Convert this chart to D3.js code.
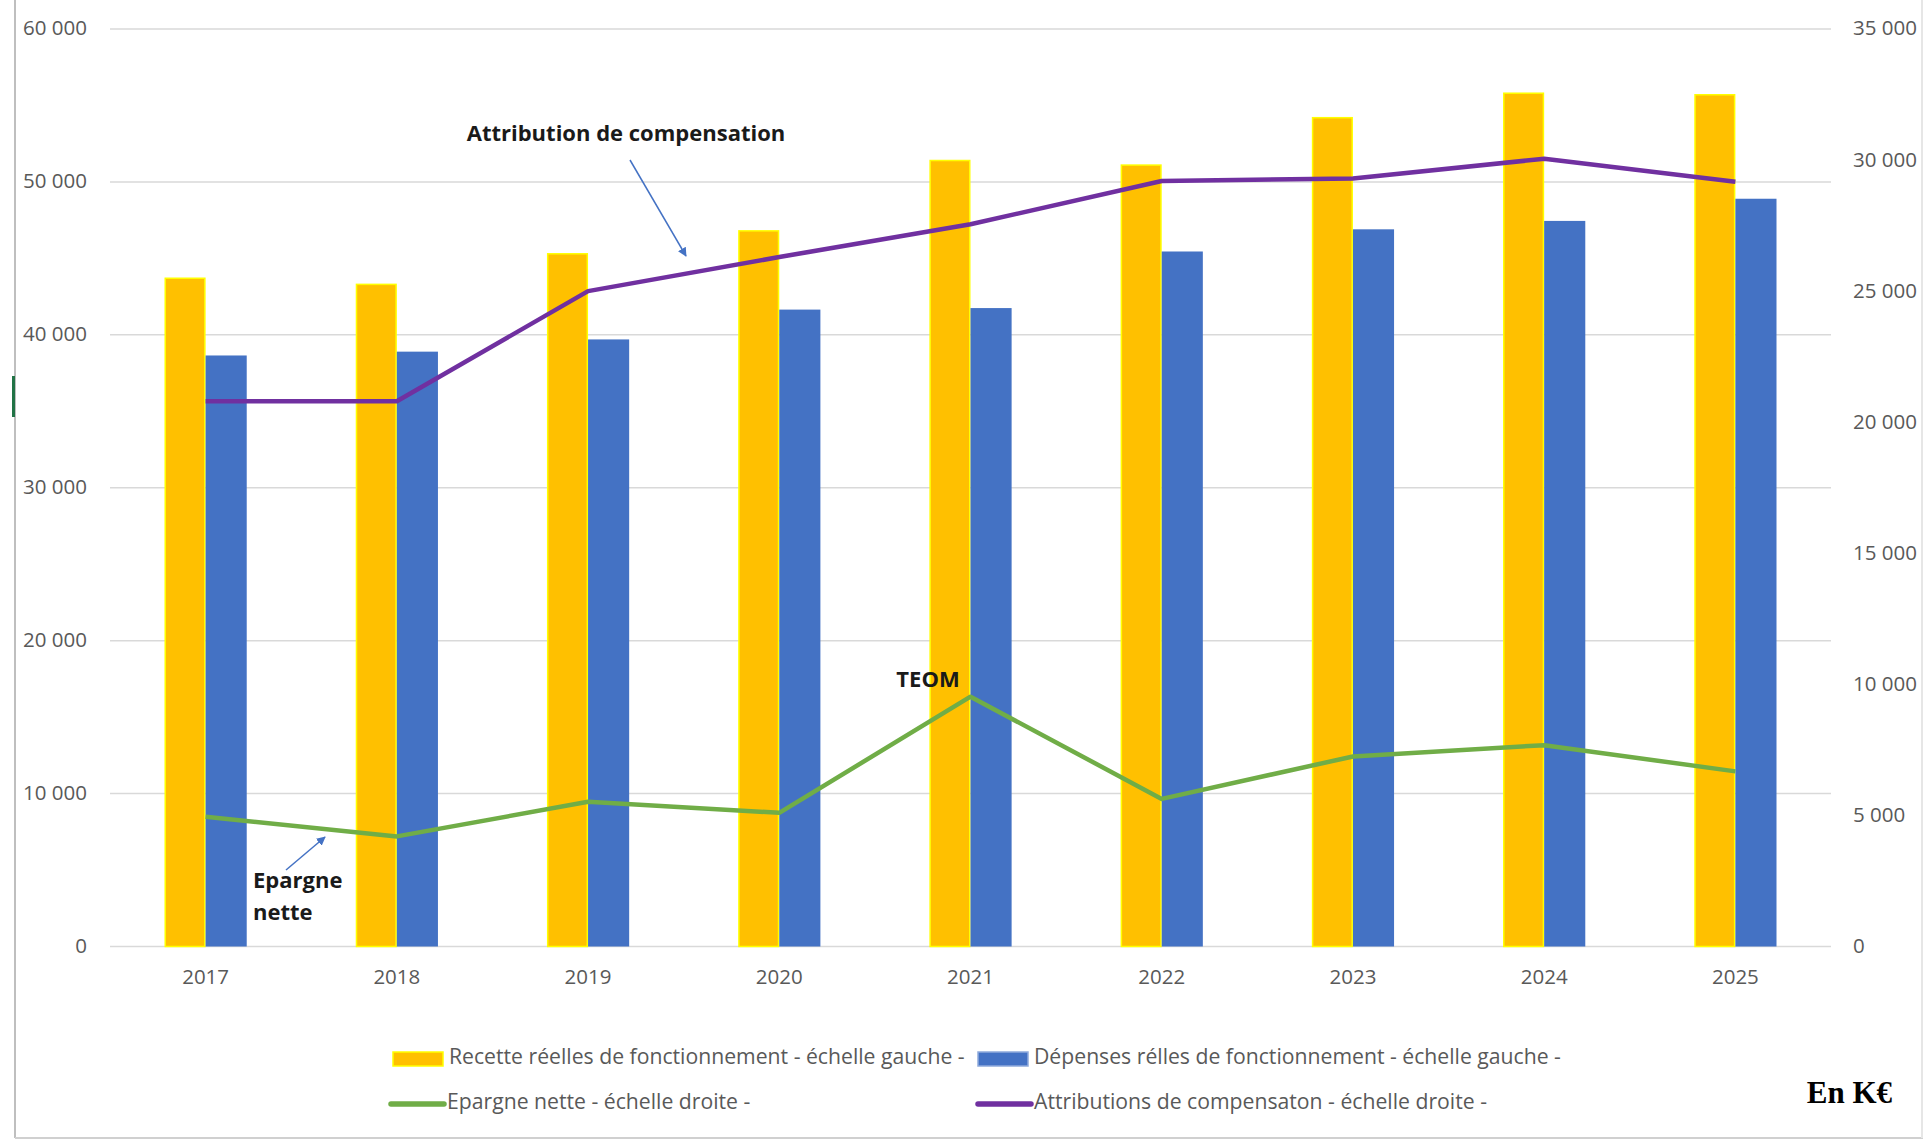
<!DOCTYPE html>
<html><head><meta charset="utf-8">
<script src="https://cdn.jsdelivr.net/npm/d3@7/dist/d3.min.js"></script>
<style>
html,body{margin:0;padding:0;background:#fff;}
svg{display:block;}
</style></head>
<body>
<svg id="chart" width="1924" height="1140"></svg>
<script>
const years = ["2017","2018","2019","2020","2021","2022","2023","2024","2025"];
const recettes = [43700, 43300, 45300, 46800, 51400, 51100, 54200, 55800, 55700];
const depenses = [38650, 38900, 39700, 41650, 41750, 45450, 46900, 47450, 48900];
const epargne = [4950, 4200, 5520, 5100, 9530, 5630, 7250, 7680, 6680];
const attributions = [20800, 20800, 25000, 26300, 27550, 29200, 29300, 30050, 29170];
const leftTicks = [0, 10000, 20000, 30000, 40000, 50000, 60000];
const rightTicks = [0, 5000, 10000, 15000, 20000, 25000, 30000, 35000];
const legendLabels = [
  "Recette réelles de fonctionnement - échelle gauche -",
  "Dépenses rélles de fonctionnement - échelle gauche -",
  "Epargne nette - échelle droite -",
  "Attributions de compensaton - échelle droite -"
];

const svg = d3.select("#chart");
const FONT = "'Open Sans', sans-serif";
const GRAY = "#595959";
const YEL = "#FFC000", BLUE = "#4472C4", GREEN = "#70AD47", PURPLE = "#7030A0";
const FS = 20.5;
const LFS = 21.2;

const pL = 110, pR = 1831, pT = 29, pB = 946.5;
const x0 = d3.scaleBand().domain(years).range([pL, pR]).padding(0);
const bw = x0.bandwidth();
const x1 = d3.scaleBand().domain(["r","d"]).range([bw*0.285, bw*0.715]).padding(0);
const yL = d3.scaleLinear().domain([0, 60000]).range([pB, pT]);
const yR = d3.scaleLinear().domain([0, 35000]).range([pB, pT]);
const fmt = v => d3.format(",")(v).replace(/,/g, " ");

// frame
svg.append("line").attr("x1",15).attr("x2",15).attr("y1",0).attr("y2",1138).attr("stroke","#bfbfbf").attr("stroke-width",2);
svg.append("line").attr("x1",15).attr("x2",1923).attr("y1",1138).attr("y2",1138).attr("stroke","#d0d0d0").attr("stroke-width",2);
svg.append("line").attr("x1",1922).attr("x2",1922).attr("y1",0).attr("y2",1138).attr("stroke","#e6e6e6").attr("stroke-width",2);
svg.append("rect").attr("x",12).attr("y",376).attr("width",3).attr("height",41).attr("fill","#217346");

// gridlines
svg.append("g").selectAll("line").data(leftTicks).join("line")
  .attr("x1", pL).attr("x2", pR)
  .attr("y1", d => yL(d)).attr("y2", d => yL(d))
  .attr("stroke", "#d9d9d9").attr("stroke-width", 1.5);

// left axis labels
svg.append("g").selectAll("text").data(leftTicks).join("text")
  .attr("x", 87).attr("y", d => yL(d) + 1)
  .attr("text-anchor", "end").attr("dominant-baseline", "middle")
  .attr("font-family", FONT).attr("font-size", FS).attr("fill", GRAY)
  .text(fmt);

// right axis labels
svg.append("g").selectAll("text").data(rightTicks).join("text")
  .attr("x", 1853).attr("y", d => yR(d) + 1)
  .attr("text-anchor", "start").attr("dominant-baseline", "middle")
  .attr("font-family", FONT).attr("font-size", FS).attr("fill", GRAY)
  .text(fmt);

// x labels
svg.append("g").selectAll("text").data(years).join("text")
  .attr("x", d => x0(d) + bw/2).attr("y", 979)
  .attr("text-anchor", "middle").attr("dominant-baseline", "middle")
  .attr("font-family", FONT).attr("font-size", FS).attr("fill", GRAY)
  .text(d => d);

// bars
const g = svg.append("g");
g.selectAll("rect.r").data(years).join("rect").attr("class","r")
  .attr("x", (d) => x0(d) + x1("r") + 0.75)
  .attr("width", x1.bandwidth() - 1.5)
  .attr("y", (d,i) => yL(recettes[i]))
  .attr("height", (d,i) => yL(0) - yL(recettes[i]))
  .attr("fill", YEL).attr("stroke", "#FFFF00").attr("stroke-width", 1.5);
g.selectAll("rect.d").data(years).join("rect").attr("class","d")
  .attr("x", (d) => x0(d) + x1("d"))
  .attr("width", x1.bandwidth())
  .attr("y", (d,i) => yL(depenses[i]))
  .attr("height", (d,i) => yL(0) - yL(depenses[i]))
  .attr("fill", BLUE);

// lines
const cx = d => x0(d) + bw/2;
const lineE = d3.line().x((d,i) => cx(years[i])).y(d => yR(d));
svg.append("path").attr("d", lineE(epargne)).attr("fill","none")
  .attr("stroke", GREEN).attr("stroke-width", 4.5).attr("stroke-linejoin","round");
svg.append("path").attr("d", lineE(attributions)).attr("fill","none")
  .attr("stroke", PURPLE).attr("stroke-width", 4.5).attr("stroke-linejoin","round");

// arrow marker
const defs = svg.append("defs");
defs.append("marker").attr("id","arr").attr("viewBox","0 0 10 10")
  .attr("refX", 9).attr("refY", 5).attr("markerWidth", 6).attr("markerHeight", 6)
  .attr("markerUnits","strokeWidth").attr("orient","auto")
  .append("path").attr("d","M0,0 L10,5 L0,10 z").attr("fill", BLUE);

// annotations
const AF = 22;
svg.append("text").attr("x", 626).attr("y", 135).attr("text-anchor","middle")
  .attr("dominant-baseline","middle").attr("font-family", FONT).attr("font-weight","bold")
  .attr("font-size", AF).attr("fill","#1a1a1a").text("Attribution de compensation");
svg.append("line").attr("x1", 630).attr("y1", 160).attr("x2", 686).attr("y2", 256)
  .attr("stroke", BLUE).attr("stroke-width", 1.5).attr("marker-end","url(#arr)");

svg.append("text").attr("x", 928).attr("y", 681).attr("text-anchor","middle")
  .attr("dominant-baseline","middle").attr("font-family", FONT).attr("font-weight","bold")
  .attr("font-size", AF).attr("fill","#1a1a1a").text("TEOM");

svg.append("text").attr("x", 253).attr("y", 882)
  .attr("dominant-baseline","middle").attr("font-family", FONT).attr("font-weight","bold")
  .attr("font-size", AF).attr("fill","#1a1a1a").text("Epargne");
svg.append("text").attr("x", 253).attr("y", 914)
  .attr("dominant-baseline","middle").attr("font-family", FONT).attr("font-weight","bold")
  .attr("font-size", AF).attr("fill","#1a1a1a").text("nette");
svg.append("line").attr("x1", 286).attr("y1", 870).attr("x2", 325).attr("y2", 837)
  .attr("stroke", BLUE).attr("stroke-width", 1.5).attr("marker-end","url(#arr)");

// legend
const leg = svg.append("g");
const items = [
  {x: 393, y: 1059, type: "rect", fill: YEL, stroke: "#FFFF00", label: legendLabels[0]},
  {x: 978, y: 1059, type: "rect", fill: BLUE, stroke: "#8faadc", label: legendLabels[1]},
  {x: 391, y: 1104, type: "line", fill: GREEN, label: legendLabels[2]},
  {x: 978, y: 1104, type: "line", fill: PURPLE, label: legendLabels[3]}
];
items.forEach(it => {
  if (it.type === "rect") {
    leg.append("rect").attr("x", it.x).attr("y", it.y - 7).attr("width", 50).attr("height", 14)
      .attr("fill", it.fill).attr("stroke", it.stroke).attr("stroke-width", 1.5);
  } else {
    leg.append("line").attr("x1", it.x).attr("x2", it.x + 53).attr("y1", it.y).attr("y2", it.y)
      .attr("stroke", it.fill).attr("stroke-width", 5.5).attr("stroke-linecap","round");
  }
  leg.append("text").attr("x", it.x + 56).attr("y", it.y - 1)
    .attr("dominant-baseline","middle").attr("font-family", FONT).attr("font-size", LFS)
    .attr("fill", GRAY).text(it.label);
});

svg.append("text").attr("x", 1892).attr("y", 1096).attr("text-anchor","end")
  .attr("dominant-baseline","middle").attr("font-family","'Liberation Serif', serif")
  .attr("font-weight","bold").attr("font-size", 31).attr("fill","#000").text("En K€");
</script>
</body></html>
